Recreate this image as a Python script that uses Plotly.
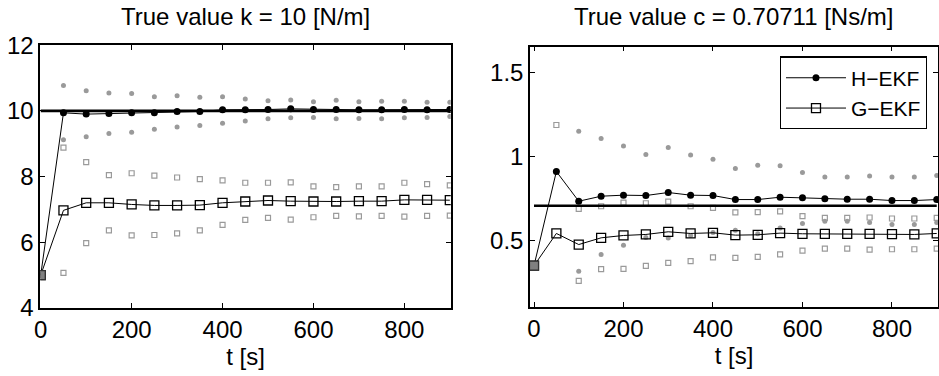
"""Parameter estimates of k and c over time, H-EKF vs G-EKF."""

import plotly.graph_objects as go

t = [0, 50, 100, 150, 200, 250, 300, 350, 400, 450, 500, 550, 600, 650, 700, 750, 800, 850, 900]

# stiffness k [N/m]
k_true = 10
k_h_mean = [5, 9.94, 9.90, 9.92, 9.94, 9.94, 9.98, 9.98, 10.03, 10.03, 10.04, 10.06, 10.04, 10.04,
            10.03, 10.03, 10.04, 10.03, 10.04]
k_h_upper = [None, 10.77, 10.61, 10.54, 10.53, 10.43, 10.46, 10.41, 10.43, 10.36, 10.31, 10.33,
             10.28, 10.32, 10.28, 10.29, 10.29, 10.26, 10.26]
k_h_lower = [None, 9.12, 9.21, 9.31, 9.35, 9.44, 9.51, 9.55, 9.62, 9.69, 9.76, 9.79, 9.80, 9.76,
             9.77, 9.76, 9.79, 9.80, 9.83]
k_g_mean = [5, 6.97, 7.20, 7.20, 7.15, 7.12, 7.12, 7.13, 7.20, 7.24, 7.27, 7.25, 7.24, 7.24,
            7.25, 7.25, 7.29, 7.29, 7.28]
k_g_upper = [None, 8.88, 8.44, 8.04, 8.10, 8.03, 7.97, 7.92, 7.88, 7.81, 7.81, 7.82, 7.70, 7.68,
             7.70, 7.70, 7.81, 7.77, 7.73]
k_g_lower = [None, 5.07, 5.97, 6.36, 6.21, 6.22, 6.27, 6.36, 6.53, 6.68, 6.74, 6.69, 6.76, 6.80,
             6.79, 6.80, 6.78, 6.80, 6.81]

# damping c [Ns/m]
c_true = 0.70711
c_h_mean = [0.35, 0.911, 0.734, 0.764, 0.770, 0.768, 0.786, 0.770, 0.768, 0.744, 0.744, 0.758,
            0.754, 0.748, 0.746, 0.746, 0.738, 0.738, 0.744]
c_h_upper = [None, None, 1.151, 1.107, 1.063, 1.012, 1.054, 1.010, 0.984, 0.929, 0.948, 0.946,
             0.905, 0.879, 0.879, 0.885, 0.879, 0.879, 0.887]
c_h_lower = [None, None, 0.317, 0.417, 0.472, 0.518, 0.515, 0.530, 0.548, 0.561, 0.540, 0.575,
             0.601, 0.615, 0.615, 0.607, 0.595, 0.595, 0.607]
c_g_mean = [0.35, 0.542, 0.476, 0.516, 0.530, 0.536, 0.552, 0.542, 0.546, 0.532, 0.534, 0.544,
            0.540, 0.540, 0.540, 0.540, 0.538, 0.536, 0.542]
c_g_upper = [None, 1.188, 0.688, 0.704, 0.726, 0.722, 0.732, 0.704, 0.694, 0.667, 0.669, 0.673,
             0.645, 0.635, 0.635, 0.637, 0.631, 0.631, 0.635]
c_g_lower = [None, None, 0.260, 0.329, 0.331, 0.349, 0.367, 0.377, 0.399, 0.397, 0.403, 0.417,
             0.440, 0.452, 0.452, 0.446, 0.448, 0.448, 0.452]

FONT = "Liberation Sans, Arial, sans-serif"
GRAY = "#9a9a9a"

fig = go.Figure()


def add_panel(xa, ya, true_val, h_mean, h_up, h_lo, g_mean, g_up, g_lo, legend):
    # bounds first so the means sit on top
    for vals in (h_up, h_lo):
        fig.add_trace(go.Scatter(x=t, y=vals, mode="markers", xaxis=xa, yaxis=ya, showlegend=False,
                                 marker=dict(symbol="circle", size=5, color=GRAY, line=dict(width=0))))
    for vals in (g_up, g_lo):
        fig.add_trace(go.Scatter(x=t, y=vals, mode="markers", xaxis=xa, yaxis=ya, showlegend=False,
                                 marker=dict(symbol="square-open", size=5, color=GRAY,
                                             line=dict(width=1.2, color=GRAY))))
    fig.add_trace(go.Scatter(x=[t[0], t[-1]], y=[true_val, true_val], mode="lines", xaxis=xa, yaxis=ya,
                             showlegend=False, line=dict(color="black", width=2.6)))
    fig.add_trace(go.Scatter(x=t, y=h_mean, mode="lines+markers", name="H\u2212EKF", xaxis=xa, yaxis=ya,
                             showlegend=legend, line=dict(color="black", width=1),
                             marker=dict(symbol="circle", size=7, color="black")))
    fig.add_trace(go.Scatter(x=t, y=g_mean, mode="lines+markers", name="G\u2212EKF", xaxis=xa, yaxis=ya,
                             showlegend=legend, line=dict(color="black", width=1),
                             marker=dict(symbol="square", size=9, color="rgba(0,0,0,0)",
                                         line=dict(width=1.3, color="black"))))
    # initial guess
    fig.add_trace(go.Scatter(x=[t[0]], y=[g_mean[0]], mode="markers", xaxis=xa, yaxis=ya, showlegend=False,
                             marker=dict(symbol="square", size=9, color="#808080",
                                         line=dict(width=1.2, color="#333333"))))


add_panel("x", "y", k_true, k_h_mean, k_h_upper, k_h_lower, k_g_mean, k_g_upper, k_g_lower, False)
add_panel("x2", "y2", c_true, c_h_mean, c_h_upper, c_h_lower, c_g_mean, c_g_upper, c_g_lower, True)

axis_style = dict(showline=True, linecolor="black", linewidth=1.5, mirror="allticks", ticks="inside",
                  ticklen=5, tickcolor="black", tickwidth=1, showgrid=False, zeroline=False,
                  automargin=False, tickfont=dict(family=FONT, size=24, color="black"))

fig.update_layout(
    width=939, height=376,
    margin=dict(l=0, r=0, t=0, b=0),
    paper_bgcolor="white", plot_bgcolor="white",
    font=dict(family=FONT, size=24, color="black"),
    xaxis=dict(domain=[0.0429, 0.480], range=[-1, 902], tickvals=[0, 200, 400, 600, 800],
               title=dict(text="t [s]", font=dict(size=24), standoff=2), **axis_style),
    yaxis=dict(domain=[0.181, 0.880], range=[4, 12], tickvals=[4, 6, 8, 10, 12], **axis_style),
    xaxis2=dict(domain=[0.5644, 0.999], range=[-9, 903], tickvals=[0, 200, 400, 600, 800],
                anchor="y2", title=dict(text="t [s]", font=dict(size=24), standoff=2), **axis_style),
    yaxis2=dict(domain=[0.184, 0.876], range=[0.105, 1.655], tickvals=[0.5, 1, 1.5],
                ticktext=["0.5", "1", "1.5"], anchor="x2", **axis_style),
    legend=dict(x=0.987, y=0.85, xanchor="right", yanchor="top", bgcolor="white",
                bordercolor="black", borderwidth=1.2, font=dict(family=FONT, size=21),
                tracegroupgap=0, itemwidth=60),
    annotations=[
        dict(text="True value k = 10 [N/m]", x=0.2615, y=0.955, xref="paper", yref="paper",
             xanchor="center", yanchor="middle", showarrow=False, font=dict(family=FONT, size=24)),
        dict(text="True value c = 0.70711 [Ns/m]", x=0.7815, y=0.955, xref="paper", yref="paper",
             xanchor="center", yanchor="middle", showarrow=False, font=dict(family=FONT, size=24)),
    ],
)

fig.write_html("out.html", config={"displayModeBar": False},
               post_script="document.body.style.margin = '0';")
